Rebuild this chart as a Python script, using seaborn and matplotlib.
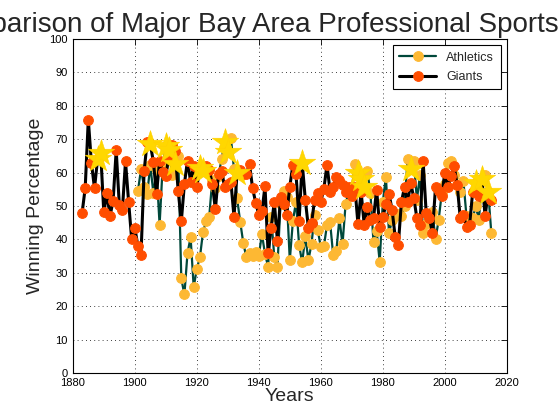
import numpy as np
import pandas as pd
import matplotlib
matplotlib.use("Agg")
import matplotlib.pyplot as plt
import seaborn as sns

# --------------------------
# Data: season winning percentage (%)
# --------------------------
giants_years = list(range(1883, 2016))
giants_pct = [
    47.9, 55.4, 75.9, 63.0, 55.3, 64.1, 65.9, 48.1, 53.8, 47.0,   # 1883-1892
    51.5, 66.7, 50.4, 48.9, 63.4, 51.3, 40.0, 43.5, 38.0, 35.3,   # 1893-1902
    60.4, 69.3, 68.6, 63.2, 53.6, 63.6, 60.1, 59.1, 64.7, 68.2,   # 1903-1912
    66.4, 54.5, 45.4, 56.6, 63.6, 57.3, 62.1, 55.8, 61.4, 60.4,   # 1913-1922
    62.1, 60.8, 56.6, 49.0, 59.7, 60.4, 55.6, 56.5, 57.2, 46.8,   # 1923-1932
    59.9, 60.8, 59.5, 59.7, 62.5, 55.3, 51.0, 47.4, 48.4, 55.9,   # 1933-1942
    35.9, 43.5, 51.3, 39.6, 52.6, 50.6, 47.4, 55.8, 62.4, 59.7,   # 1943-1952
    45.5, 63.0, 51.9, 43.5, 44.8, 51.9, 53.9, 51.3, 55.2, 62.4,   # 1953-1962
    54.3, 55.6, 58.6, 57.8, 56.2, 54.3, 55.6, 53.1, 55.6, 44.5,   # 1963-1972
    54.3, 44.4, 49.7, 45.7, 46.3, 54.9, 43.8, 46.6, 50.5, 53.7,   # 1973-1982
    48.8, 40.7, 38.3, 51.2, 55.6, 51.2, 56.8, 52.5, 46.3, 44.4,   # 1983-1992
    63.6, 47.8, 46.5, 42.0, 55.6, 54.6, 53.1, 59.9, 55.6, 59.0,   # 1993-2002
    62.1, 56.2, 46.3, 47.2, 43.8, 44.4, 54.3, 56.8, 53.1, 58.0,   # 2003-2012
    46.9, 54.3, 51.9,                                             # 2013-2015
]

athletics_years = list(range(1901, 2016))
athletics_pct = [
    54.4, 61.0, 55.6, 53.6, 62.2, 53.8, 60.7, 44.4, 62.1, 68.0,   # 1901-1910
    66.9, 59.2, 62.7, 65.1, 28.3, 23.5, 35.9, 40.6, 25.7, 31.2,   # 1911-1920
    34.6, 42.2, 45.4, 46.7, 57.9, 55.3, 59.1, 64.1, 69.3, 66.2,   # 1921-1930
    70.4, 61.0, 52.3, 45.3, 38.9, 34.6, 35.8, 34.9, 36.2, 35.1,   # 1931-1940
    41.6, 35.7, 31.8, 46.8, 34.7, 31.8, 50.6, 54.5, 52.6, 33.8,   # 1941-1950
    45.5, 51.3, 38.3, 33.1, 40.9, 33.8, 38.6, 47.4, 42.9, 37.7,   # 1951-1960
    37.9, 44.4, 45.1, 35.2, 36.4, 46.3, 38.5, 50.6, 54.3, 54.9,   # 1961-1970
    62.7, 60.0, 58.0, 55.6, 60.5, 54.0, 39.1, 42.6, 33.3, 51.2,   # 1971-1980
    58.7, 42.0, 45.7, 47.5, 47.5, 46.9, 50.0, 64.2, 61.1, 63.6,   # 1981-1990
    51.9, 59.3, 42.0, 44.7, 46.5, 48.1, 40.1, 45.7, 53.7, 56.5,   # 1991-2000
    63.0, 63.6, 59.3, 56.2, 54.3, 57.4, 46.9, 46.6, 46.3, 50.0,   # 2001-2010
    45.7, 58.0, 59.3, 54.3, 42.0,                                 # 2011-2015
]

# championship seasons, drawn as stars
giants_titles = [1888, 1889, 1905, 1921, 1922, 1933, 1954, 2010, 2012, 2014]
athletics_titles = [1910, 1911, 1913, 1929, 1930, 1972, 1973, 1974, 1989]

df_a = pd.DataFrame({"year": athletics_years, "pct": athletics_pct})
df_g = pd.DataFrame({"year": giants_years, "pct": giants_pct})
df_stars = pd.concat([
    df_g[df_g["year"].isin(giants_titles)],
    df_a[df_a["year"].isin(athletics_titles)],
])

# --------------------------
# Plot
# --------------------------
sns.set_style("white")
plt.rcParams["font.family"] = ["Liberation Sans", "DejaVu Sans"]

fig = plt.figure(figsize=(5.6, 4.2), dpi=100)
ax = fig.add_axes([0.130, 0.112, 0.775, 0.795])

sns.lineplot(data=df_a, x="year", y="pct", ax=ax, color="#00483A", lw=1.6,
             marker="o", ms=7, mfc="#FDB833", mec="#FDB833", label="Athletics")
sns.lineplot(data=df_g, x="year", y="pct", ax=ax, color="black", lw=2.2,
             marker="o", ms=7, mfc="#FF4D00", mec="#FF4D00", label="Giants")
sns.scatterplot(data=df_stars, x="year", y="pct", ax=ax, marker="*", s=400,
                color="#FFD700", edgecolor="#FFD000", linewidth=0.4,
                zorder=5, legend=False)

ax.set_xlim(1880, 2020)
ax.set_ylim(0, 100)
ax.set_xticks(np.arange(1880, 2021, 20))
ax.set_yticks(np.arange(0, 101, 10))
ax.tick_params(direction="in", top=True, right=True, labelsize=8, length=4,
               width=0.6, colors="black")
for s in ax.spines.values():
    s.set_color("black")
    s.set_linewidth(0.8)
ax.grid(True, color="black", linestyle=(0, (1, 4)), linewidth=0.6)

ax.set_title("Comparison of Major Bay Area Professional Sports Teams",
             fontsize=20, pad=5)
ax.set_xlabel("Years", fontsize=14, labelpad=0)
ax.set_ylabel("Winning Percentage", fontsize=14, labelpad=4)

leg = ax.legend(loc="upper right", fontsize=9, fancybox=False, framealpha=1,
                edgecolor="black", borderaxespad=0.5, handlelength=3.0,
                labelspacing=0.6, borderpad=0.5)
leg.get_frame().set_linewidth(0.8)

fig.savefig("out.png", dpi=100)
